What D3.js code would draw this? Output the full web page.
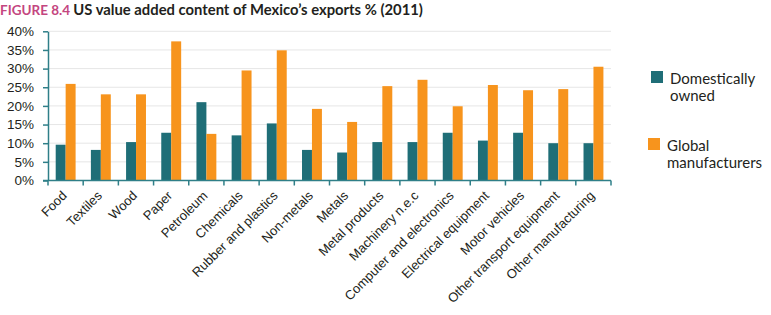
<!DOCTYPE html>
<html>
<head>
<meta charset="utf-8">
<script src="https://cdn.jsdelivr.net/npm/d3@7"></script>
<style>
  body { margin: 0; background: #fff; }
  svg { font-family: Lato, 'Open Sans', sans-serif; }
</style>
</head>
<body>
<div id="chart"></div>
<script>
const categories = ['Food', 'Textiles', 'Wood', 'Paper', 'Petroleum', 'Chemicals',
  'Rubber and plastics', 'Non-metals', 'Metals', 'Metal products', 'Machinery n.e.c',
  'Computer and electronics', 'Electrical equipment', 'Motor vehicles',
  'Other transport equipment', 'Other manufacturing'];
const domestic = [9.6, 8.2, 10.3, 12.8, 21.0, 12.1, 15.3, 8.2, 7.5, 10.3, 10.3, 12.8, 10.7, 12.8, 10.0, 10.0];
const globalMf = [25.9, 23.1, 23.1, 37.3, 12.5, 29.5, 34.9, 19.2, 15.7, 25.3, 27.0, 19.9, 25.6, 24.2, 24.5, 30.5];
const seriesNames = ['Domestically owned', 'Global manufacturers'];
const yTicks = [0, 5, 10, 15, 20, 25, 30, 35, 40];

const W = 771, H = 315;
const colors = ['#1f6e77', '#f7941d'];
const axisColor = '#2f7f88';

const svg = d3.select('#chart').append('svg')
  .attr('width', W).attr('height', H);

// title
const title = svg.append('text').attr('x', 0).attr('y', 14.5)
  .style('font-weight', 'bold');
title.append('tspan').attr('fill', '#c4467f').style('font-size', '13.5px').text('FIGURE 8.4 ');
title.append('tspan').attr('fill', '#231f20').style('font-size', '14.8px')
  .text('US value added content of Mexico\u2019s exports % (2011)');

const x = d3.scaleBand().domain(categories).range([48, 611]);
const y = d3.scaleLinear().domain([0, 40]).range([180.5, 31.3]);

// grid
svg.append('g').selectAll('line').data(yTicks.slice(1)).join('line')
  .attr('x1', 48).attr('x2', 611)
  .attr('y1', d => y(d)).attr('y2', d => y(d))
  .attr('stroke', '#e6e6e6').attr('stroke-width', 1);

// bars
const inner = d3.scaleBand().domain([0, 1]).range([7.7, 27.6]);
const groups = svg.append('g').selectAll('g').data(categories).join('g')
  .attr('transform', d => `translate(${x(d)},0)`);
groups.selectAll('rect').data((d, i) => [domestic[i], globalMf[i]]).join('rect')
  .attr('x', (d, j) => inner(j))
  .attr('width', inner.bandwidth())
  .attr('y', d => y(d))
  .attr('height', d => y(0) - y(d))
  .attr('fill', (d, j) => colors[j]);

// y axis
const yAxis = svg.append('g').attr('transform', 'translate(48,0)')
  .call(d3.axisLeft(y).tickValues(yTicks).tickFormat(d => d + '%').tickSize(5).tickSizeOuter(0));
yAxis.selectAll('text').style('font-size', '13.5px').attr('fill', '#231f20').attr('x', -14);

// x axis
const xAxis = svg.append('g').attr('transform', `translate(0,${y(0)})`)
  .call(d3.axisBottom(x).tickSize(0).tickSizeOuter(0));
xAxis.select('.domain').attr('d', `M43,0H611`);
xAxis.selectAll('.tick text')
  .style('font-size', '13px').attr('fill', '#231f20')
  .attr('text-anchor', 'end')
  .attr('transform', 'translate(2,16) rotate(-45)')
  .attr('dy', 0).attr('y', 0);
// boundary ticks
svg.append('g').selectAll('line').data(categories.map(c => x(c)).concat([611])).join('line')
  .attr('x1', d => d).attr('x2', d => d)
  .attr('y1', y(0)).attr('y2', y(0) + 5)
  .attr('stroke', axisColor).attr('stroke-width', 1.5);

[yAxis, xAxis].forEach(a => {
  a.select('.domain').attr('stroke', axisColor).attr('stroke-width', 1.5);
  a.selectAll('.tick line').attr('stroke', axisColor).attr('stroke-width', 1.5);
});

// legend
const legend = [
  { lines: ['Domestically', 'owned'], sx: 651, sy: 71, tx: 670, ty: 83.5 },
  { lines: ['Global', 'manufacturers'], sx: 648, sy: 138, tx: 667, ty: 150.5 }
];
legend.forEach((l, i) => {
  svg.append('rect').attr('x', l.sx).attr('y', l.sy).attr('width', 12).attr('height', 12)
    .attr('fill', colors[i]);
  const t = svg.append('text').attr('x', l.tx).attr('y', l.ty)
    .style('font-size', '15px').attr('fill', '#231f20');
  l.lines.forEach((s, k) => t.append('tspan').attr('x', l.tx).attr('dy', k ? 17.5 : 0).text(s));
});
</script>
</body>
</html>
